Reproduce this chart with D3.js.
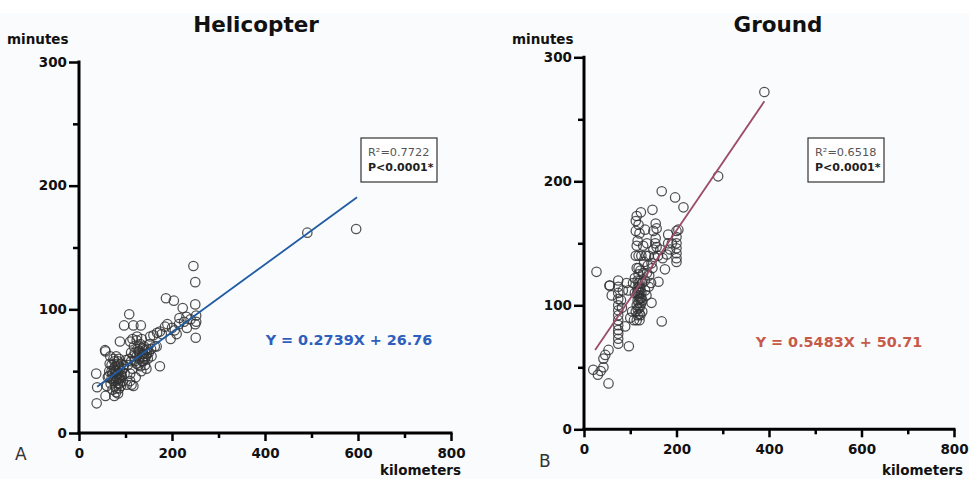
<!DOCTYPE html>
<html>
<head>
<meta charset="utf-8">
<script src="https://cdn.jsdelivr.net/npm/d3@7"></script>
<style>
  html, body { margin: 0; padding: 0; background: #fafbfd; }
  svg { display: block; }
  text { font-family: "DejaVu Sans", Verdana, sans-serif; }
</style>
</head>
<body>
<svg id="chart" width="969" height="479"></svg>
<script>
// ---------------- DATA ----------------
const panelTitles = ["Helicopter", "Ground"];
const panelLetters = ["A", "B"];
const xAxisLabel = "kilometers";
const yAxisLabel = "minutes";
const xMajorTicks = [0, 200, 400, 600, 800];
const xMinorTicks = [100, 300, 500, 700];
const yMajorTicks = [0, 100, 200, 300];
const yMinorTicks = [50, 150, 250];
const r2Labels = ["R\u00B2=0.7722", "R\u00B2=0.6518"];
const pLabels = ["P<0.0001*", "P<0.0001*"];
const equationLabels = ["Y = 0.2739X + 26.76", "Y = 0.5483X + 50.71"];
const slopes = [0.2739, 0.5483];
const intercepts = [26.76, 50.71];
const fitRangeX = [[39, 598], [24, 390]];

// Helicopter: [km, minutes]
const helicopterPoints = [
  [491,162],[596,165],[246,135],[250,122],[187,109],[204,107],[223,101],[250,104],
  [252,95],[252,90],[250,88],[251,77],[190,88],[197,76],[210,80],[216,93],[232,85],
  [231,94],[174,54],[167,70],[160,79],[108,96],[97,87],[117,87],[133,87],[88,74],
  [57,66],[67,62],[37,48],[39,37],[38,24],[57,30],[117,38],[103,39],
  [206,83],[174,82],[168,81],[153,78],[163,70],[156,62],[142,67],[124,75],[110,74],
  [56,67],[113,39],[110,42],[95,52],[101,59],[117,62],[131,70],[138,64],[200,85],
  [215,88],[240,92],[226,90],[185,86],[178,80],
  [62,45],[65,50],[68,40],[70,55],[72,48],[72,35],[74,42],[75,52],[76,58],[78,38],
  [78,46],[80,50],[80,33],[82,44],[82,56],[84,40],[85,48],[86,36],[86,60],[88,52],
  [88,44],[90,38],[90,56],[92,46],[92,50],[94,42],[70,44],[74,60],[66,56],[60,38],
  [80,62],[76,30],[84,32],[96,55],[98,48],[64,46],[70,50],[78,54],[88,40],[90,47],
  [80,42],[82,48],[84,54],[86,44],[78,50],[76,44],[80,36],[84,58],
  [105,55],[108,60],[110,48],[112,65],[115,52],[118,70],[120,58],[122,45],[124,62],
  [126,68],[128,55],[130,60],[132,72],[134,50],[136,64],[138,58],[140,70],[142,55],
  [144,62],[146,68],[148,60],[150,65],[152,72],[145,52],[135,76],[125,78],[115,76],
  [128,66],[140,62],[155,68],[120,65],[112,58],[138,68],[132,54],[142,60],[136,58],
  [146,64],[130,66],[124,56]
];

// Ground: [km, minutes]
const groundPoints = [
  [390,272],[290,204],[168,192],[197,187],[215,179],[123,175],[148,177],[112,168],
  [114,172],[27,127],[168,87],[97,67],[53,37],[20,48],[30,44],[42,50],[42,57],[53,64],
  [46,60],[36,47],[56,116],[60,108],[55,116],
  [74,120],[74,115],[74,110],[74,105],[74,100],[74,96],[74,92],[74,88],[74,84],[74,80],
  [74,77],[74,73],[74,69],[80,104],[82,98],[84,112],[89,83],[92,118],[96,112],[100,90],
  [104,95],[106,118],[108,88],
  [112,95],[114,100],[116,104],[118,108],[118,112],[120,115],[116,120],[118,125],
  [114,130],[118,140],[114,148],[116,152],[120,158],[112,160],[118,165],[122,92],
  [120,98],[124,102],[122,106],[124,110],[126,118],[114,88],[120,88],[126,95],[112,140],
  [124,140],[110,122],[110,110],
  [116,97],[118,102],[120,105],[122,100],[116,110],[120,110],[122,113],[118,118],
  [122,120],[116,114],[124,106],[120,93],[116,92],[126,104],[118,130],[122,128],
  [128,126],[132,112],[135,108],[130,135],[134,140],[132,161],[138,132],[141,124],
  [146,102],[148,130],[152,139],[155,154],[157,147],[157,162],[155,166],[150,160],
  [161,119],[175,129],[179,141],[182,150],[182,157],[165,145],[170,138],[140,115],
  [145,118],[160,140],[128,148],[136,150],[140,140],[146,134],[150,145],[154,150],
  [136,126],[132,120],
  [200,160],[200,155],[200,150],[200,146],[200,142],[200,138],[200,135],[204,161],
  [190,150],[186,145]
];
const panelPoints = [helicopterPoints, groundPoints];

// ---------------- LAYOUT / STYLE ----------------
const panels = [
  { x0: 79,  x1: 451, y0: 433,   y1: 62,   titleX: 256, minutesX: 7,   letterX: 15,  letterY: 460, kmX: 461, kmY: 475,
    box: [361, 138, 76, 44], eqX: 349, eqY: 345, lineColor: "#1f5ca3", eqColor: "#2e5fbd" },
  { x0: 584, x1: 954, y0: 429.3, y1: 57.3, titleX: 778, minutesX: 512, letterX: 539, letterY: 467, kmX: 963, kmY: 475,
    box: [808, 138, 76, 44], eqX: 839, eqY: 347, lineColor: "#9b4a68", eqColor: "#c65a48" }
];

const svg = d3.select("#chart");
svg.append("rect").attr("x", 0).attr("y", 0).attr("width", 969).attr("height", 479).attr("fill", "#fafbfd");
svg.append("rect").attr("x", 0).attr("y", 0).attr("width", 969).attr("height", 13).attr("fill", "#ffffff");

panels.forEach((p, i) => {
  const g = svg.append("g");
  const x = d3.scaleLinear().domain([0, 800]).range([p.x0, p.x1]);
  const y = d3.scaleLinear().domain([0, 300]).range([p.y0, p.y1]);

  // minor ticks
  const xMinor = g.append("g").attr("transform", `translate(0,${p.y0})`)
    .call(d3.axisBottom(x).tickValues(xMinorTicks).tickSize(5).tickSizeOuter(0).tickFormat(""));
  const yMinor = g.append("g").attr("transform", `translate(${p.x0},0)`)
    .call(d3.axisLeft(y).tickValues(yMinorTicks).tickSize(6).tickSizeOuter(0).tickFormat(""));
  [xMinor, yMinor].forEach(a => {
    a.select(".domain").remove();
    a.selectAll("line").attr("stroke", "#000").attr("stroke-width", 2.5);
  });

  // major axes
  const xAx = g.append("g").attr("transform", `translate(0,${p.y0})`)
    .call(d3.axisBottom(x).tickValues(xMajorTicks).tickSize(8).tickPadding(7).tickSizeOuter(0).tickFormat(d3.format("d")));
  const yAx = g.append("g").attr("transform", `translate(${p.x0},0)`)
    .call(d3.axisLeft(y).tickValues(yMajorTicks).tickSize(10).tickPadding(2).tickSizeOuter(0).tickFormat(d3.format("d")));
  [xAx, yAx].forEach(a => {
    a.select(".domain").attr("stroke", "#000").attr("stroke-width", 3);
    a.selectAll("line").attr("stroke", "#000").attr("stroke-width", 2.5);
    a.selectAll("text").attr("fill", "#111").style("font-family", "'DejaVu Sans', sans-serif")
      .style("font-size", "13.5px").style("font-weight", "bold");
  });
  xAx.select(".domain").attr("d", `M${p.x0 - 1.5},0H${p.x1 + 1.5}`);
  yAx.select(".domain").attr("d", `M0,${p.y0 + 1.5}V${p.y1 - 1.5}`);

  // points
  g.append("g").selectAll("circle").data(panelPoints[i]).join("circle")
    .attr("cx", d => x(d[0])).attr("cy", d => y(d[1])).attr("r", 4.7)
    .attr("fill", "none").attr("stroke", "#333").attr("stroke-width", 1.25).attr("stroke-opacity", 0.85);

  // fit line
  const fit = fitRangeX[i].map(xv => [xv, slopes[i] * xv + intercepts[i]]);
  g.append("path").datum(fit)
    .attr("d", d3.line().x(d => x(d[0])).y(d => y(d[1])))
    .attr("stroke", p.lineColor).attr("stroke-width", 1.8).attr("fill", "none");

  // title
  g.append("text").attr("x", p.titleX).attr("y", 32).attr("text-anchor", "middle")
    .style("font-size", "21.5px").style("font-weight", "bold").attr("fill", "#111").text(panelTitles[i]);
  // y label
  g.append("text").attr("x", p.minutesX).attr("y", 44)
    .style("font-size", "13.5px").style("font-weight", "bold").attr("fill", "#111").text(yAxisLabel);
  // x label
  g.append("text").attr("x", p.kmX).attr("y", p.kmY).attr("text-anchor", "end")
    .style("font-size", "13.5px").style("font-weight", "bold").attr("fill", "#111").text(xAxisLabel);
  // panel letter
  g.append("text").attr("x", p.letterX).attr("y", p.letterY)
    .style("font-size", "17px").attr("fill", "#333").text(panelLetters[i]);

  // stats box
  g.append("rect").attr("x", p.box[0]).attr("y", p.box[1]).attr("width", p.box[2]).attr("height", p.box[3])
    .attr("fill", "#ffffff").attr("stroke", "#333").attr("stroke-width", 1.2);
  g.append("text").attr("x", p.box[0] + 7).attr("y", p.box[1] + 18)
    .style("font-size", "11.3px").attr("fill", "#555").text(r2Labels[i]);
  g.append("text").attr("x", p.box[0] + 7).attr("y", p.box[1] + 33)
    .style("font-size", "11px").style("font-weight", "bold").attr("fill", "#222").text(pLabels[i]);

  // equation
  g.append("text").attr("x", p.eqX).attr("y", p.eqY).attr("text-anchor", "middle")
    .style("font-size", "14.4px").style("font-weight", "bold").attr("fill", p.eqColor).text(equationLabels[i]);
});
</script>
</body>
</html>
